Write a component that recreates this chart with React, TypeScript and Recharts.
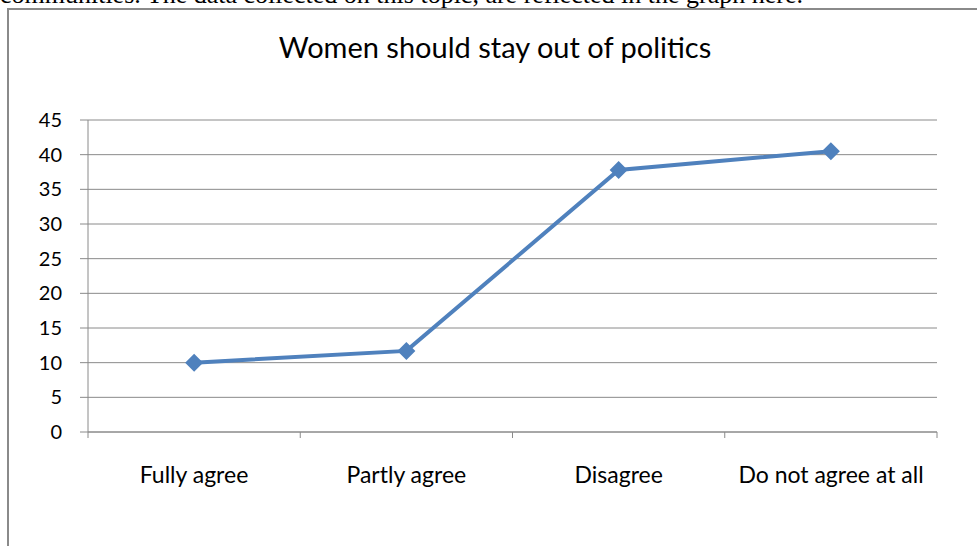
import { LineChart, Line, XAxis, YAxis, CartesianGrid } from 'recharts';

const categories = ['Fully agree', 'Partly agree', 'Disagree', 'Do not agree at all'];
const values = [10, 11.7, 37.8, 40.5];
const yTicks = [0, 5, 10, 15, 20, 25, 30, 35, 40, 45];
const bandEdges = [0, 1, 2, 3, 4];

// pos = middle of each category band on the boundary axis
const data = categories.map((name, i) => ({ name, value: values[i], pos: i + 0.5 }));

const font = 'Lato, "Open Sans", sans-serif';

const Diamond = (props: any) => {
  const { cx, cy } = props;
  if (cx == null || cy == null) return null;
  const r = 9;
  return (
    <polygon
      points={`${cx},${cy - r} ${cx + r},${cy} ${cx},${cy + r} ${cx - r},${cy}`}
      fill="#4F81BD"
    />
  );
};

// small tick marks on the category boundaries
const EdgeTick = (props: any) => {
  const { x, y } = props;
  return <line x1={x} x2={x} y1={y - 6} y2={y} stroke="#8a8a8a" strokeWidth={1} />;
};

const App = () => (
  <div style={{ position: 'fixed', left: 0, top: 0, width: 977, height: 546, overflow: 'hidden', background: '#fff' }}>
    <div
      style={{
        position: 'absolute',
        right: 174,
        top: -20,
        fontFamily: '"Liberation Serif", serif',
        fontSize: 26,
        whiteSpace: 'nowrap',
        color: '#000',
      }}
    >
      communities. The data collected on this topic, are reflected in the graph here.
    </div>
    <div
      style={{
        position: 'absolute',
        left: 7,
        top: 8,
        width: 1000,
        height: 600,
        border: '2px solid #8a8a8a',
        boxSizing: 'border-box',
      }}
    />
    <div
      style={{
        position: 'absolute',
        left: 0,
        width: 990,
        top: 29,
        textAlign: 'center',
        fontFamily: font,
        fontSize: 29,
        color: '#000',
      }}
    >
      Women should stay out of politics
    </div>
    <div style={{ position: 'absolute', left: 0, top: 0 }}>
      <LineChart width={977} height={546} data={data} margin={{ top: 120, right: 40, bottom: 0, left: 0 }}>
        <CartesianGrid vertical={false} stroke="#8a8a8a" strokeWidth={1} horizontalValues={yTicks} />
        <XAxis
          xAxisId="a"
          dataKey="pos"
          type="number"
          domain={[0, 4]}
          ticks={bandEdges}
          allowDataOverflow
          height={6}
          axisLine={{ stroke: '#8a8a8a' }}
          tickLine={false}
          tickSize={6}
          tickMargin={0}
          tick={<EdgeTick />}
        />
        <XAxis
          xAxisId="b"
          dataKey="name"
          height={108}
          padding={{ left: 106, right: 106 }}
          tickLine={false}
          axisLine={false}
          tickSize={0}
          tickMargin={29}
          interval={0}
          tick={{ fill: '#000', fontSize: 23, fontFamily: font }}
        />
        <YAxis
          width={88}
          domain={[0, 45]}
          ticks={yTicks}
          interval={0}
          axisLine={{ stroke: '#8a8a8a' }}
          tickLine={{ stroke: '#8a8a8a' }}
          tickSize={8}
          tickMargin={18}
          tick={{ fill: '#000', fontSize: 20, fontFamily: font }}
        />
        <Line
          xAxisId="a"
          type="linear"
          dataKey="value"
          stroke="#4F81BD"
          strokeWidth={4}
          dot={<Diamond />}
          activeDot={false}
          isAnimationActive={false}
        />
      </LineChart>
    </div>
  </div>
);

export default App;
